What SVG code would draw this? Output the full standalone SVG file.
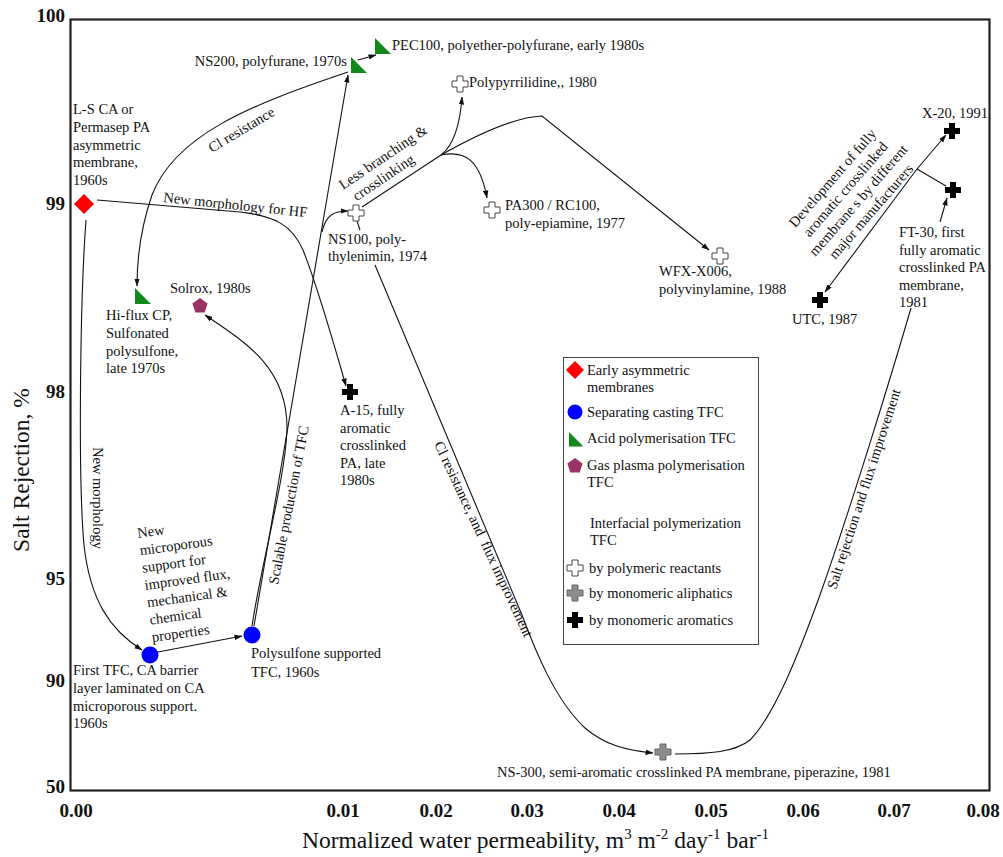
<svg xmlns="http://www.w3.org/2000/svg" width="1003" height="857" viewBox="0 0 1003 857">
<style>
.t{font-family:"Liberation Serif","Times New Roman",serif;font-size:14.5px;fill:#111}
.tk{font-family:"Liberation Serif","Times New Roman",serif;font-size:19px;font-weight:bold;fill:#111}
.ax{font-family:"Liberation Serif","Times New Roman",serif;font-size:23.5px;fill:#111}
.c{fill:none;stroke:#111;stroke-width:1.1}
.a{marker-end:url(#ah)}
.w{fill:#fff;stroke:#444;stroke-width:1}
.g{fill:#8c8c8c;stroke:#666;stroke-width:1}
.b{fill:#000}
.gr{fill:#14891b}
.rd{fill:#ff0000}
.bl{fill:#0000ff}
.pu{fill:#993366}
</style>
<defs>
<marker id="ah" markerWidth="8" markerHeight="6" refX="7.5" refY="3" orient="auto" markerUnits="userSpaceOnUse"><path d="M0,0.3 L8,3 L0,5.7 Z" fill="#111"/></marker>
<path id="cr" d="M-3,-8H3V-3H8V3H3V8H-3V3H-8V-3H-3Z"/>
<path id="tri" d="M0,0V16H16Z"/>
<path id="dia" d="M0,-10L10,0L0,10L-10,0Z"/>
<path id="pent" d="M0,-8L7.6,-2.5L4.7,6.5L-4.7,6.5L-7.6,-2.5Z"/>
</defs>
<rect width="1003" height="857" fill="#fff"/>

<g id="axes">
<rect x="70.5" y="19.5" width="919" height="771" fill="none" stroke="#222" stroke-width="2.2"/>
<g class="tk" text-anchor="end">
<text x="65" y="22">100</text>
<text x="65" y="210">99</text>
<text x="65" y="398">98</text>
<text x="65" y="585">95</text>
<text x="65" y="687">90</text>
<text x="65" y="793">50</text>
</g>
<g class="tk" text-anchor="middle">
<text x="76" y="817">0.00</text>
<text x="343" y="817">0.01</text>
<text x="436" y="817">0.02</text>
<text x="527" y="817">0.03</text>
<text x="619" y="817">0.04</text>
<text x="711" y="817">0.05</text>
<text x="803" y="817">0.06</text>
<text x="894" y="817">0.07</text>
<text x="983" y="817">0.08</text>
</g>
<text class="ax" x="302" y="848">Normalized water permeability, m<tspan font-size="15" dy="-9">3</tspan><tspan dy="9"> m</tspan><tspan font-size="15" dy="-9">-2</tspan><tspan dy="9"> day</tspan><tspan font-size="15" dy="-9">-1</tspan><tspan dy="9"> bar</tspan><tspan font-size="15" dy="-9">-1</tspan></text>
<text class="ax" text-anchor="middle" transform="translate(29,470) rotate(-90)">Salt Rejection, %</text>
</g>

<g id="connectors">
<path class="c a" d="M97,200 L240,212 C275,216 292,225 303,250 C315,280 330,330 346,386"/>
<path class="c a" d="M86,220 C80,300 78,480 84,545 C90,600 110,630 142,650"/>
<path class="c a" d="M158,652 L242,636"/>
<path class="c a" d="M252,626 C262,560 285,480 287,430 C288,370 250,345 205,315"/>
<path class="c a" d="M254,626 L348,75"/>
<path class="c a" d="M322,232 C326,214 335,211 348,211"/>
<path class="c" d="M357,221 L360,230"/>
<path class="c a" d="M375,265 L522,615 C535,650 555,700 585,728 C605,745 625,750 653,753"/>
<path class="c" d="M362,207 L441,155"/>
<path class="c a" d="M441,155 C454,145 460,125 462,97"/>
<path class="c a" d="M441,155 C465,150 480,160 487,198"/>
<path class="c a" d="M441,155 C480,133 515,117 542,116 L709,250"/>
<path class="c a" d="M348,72 C250,105 175,135 152,195 C140,230 137,260 137,286"/>
<path class="c a" d="M358,60 L376,55"/>
<path class="c" d="M675,754 C710,754 735,752 750,740 C775,715 800,650 820,595 C850,510 890,380 911,308"/>
<path class="c a" d="M940,222 L947,198"/>
<path class="c a" d="M917,169 L946,135"/>
<path class="c a" d="M917,169 L825,292"/>
<path class="c" d="M917,169 L946,186"/>
</g>

<g id="connector-labels" class="t">
<text transform="translate(163,202) rotate(6)">New morphology for HF</text>
<text transform="translate(212,153) rotate(-31)">Cl resistance</text>
<text transform="translate(343,190) rotate(-34)"><tspan x="0" y="0">Less branching &amp;</tspan><tspan x="5" y="17">crosslinking</tspan></text>
<text transform="translate(93,447) rotate(90)">New morphology</text>
<text transform="translate(278,585) rotate(-79)">Scalable production of TFC</text>
<text transform="translate(138,538) rotate(-8)"><tspan x="0" y="0">New</tspan><tspan x="0" y="17.5">microporous</tspan><tspan x="0" y="35">support for</tspan><tspan x="0" y="52.5">improved flux,</tspan><tspan x="0" y="70">mechanical &amp;</tspan><tspan x="0" y="87.5">chemical</tspan><tspan x="0" y="105">properties</tspan></text>
<text transform="translate(434,444) rotate(65)">Cl resistance, and&#160; flux improvement</text>
<text transform="translate(836,590) rotate(-72)">Salt rejection and flux improvement</text>
<text transform="translate(852,195) rotate(-49)" text-anchor="middle"><tspan x="0" y="-21">Development of fully</tspan><tspan x="0" y="-4">aromatic crosslinked</tspan><tspan x="0" y="13">membrane s by different</tspan><tspan x="0" y="30">major manufacturers</tspan></text>
</g>

<g id="node-ls-ca">
<use href="#dia" x="84" y="204" class="rd"/>
<text class="t"><tspan x="73" y="114">L-S CA or</tspan><tspan x="73" y="132">Permasep PA</tspan><tspan x="73" y="150">asymmetric</tspan><tspan x="73" y="167">membrane,</tspan><tspan x="73" y="185">1960s</tspan></text>
</g>
<g id="node-first-tfc">
<circle cx="150" cy="655" r="8.5" class="bl"/>
<text class="t"><tspan x="73" y="675">First TFC, CA barrier</tspan><tspan x="73" y="693">layer laminated on CA</tspan><tspan x="73" y="711">microporous support.</tspan><tspan x="73" y="728">1960s</tspan></text>
</g>
<g id="node-polysulfone">
<circle cx="252" cy="635" r="8.5" class="bl"/>
<text class="t"><tspan x="251" y="658">Polysulfone supported</tspan><tspan x="251" y="677">TFC, 1960s</tspan></text>
</g>
<g id="node-hiflux">
<use href="#tri" x="135" y="288" class="gr"/>
<text class="t"><tspan x="106" y="320">Hi-flux CP,</tspan><tspan x="106" y="338">Sulfonated</tspan><tspan x="106" y="356">polysulfone,</tspan><tspan x="106" y="373">late 1970s</tspan></text>
</g>
<g id="node-solrox">
<use href="#pent" x="200" y="306" class="pu"/>
<text class="t" x="170" y="293">Solrox, 1980s</text>
</g>
<g id="node-ns200">
<use href="#tri" x="351" y="57" class="gr"/>
<text class="t" x="347" y="66" text-anchor="end">NS200, polyfurane, 1970s</text>
</g>
<g id="node-pec100">
<use href="#tri" x="375" y="38" class="gr"/>
<text class="t" x="392" y="50">PEC100, polyether-polyfurane, early 1980s</text>
</g>
<g id="node-polypyrrilidine">
<use href="#cr" x="460" y="84" class="w"/>
<text class="t" x="469" y="87">Polypyrrilidine,, 1980</text>
</g>
<g id="node-ns100">
<use href="#cr" x="356" y="213" class="w"/>
<text class="t"><tspan x="328" y="244">NS100, poly-</tspan><tspan x="328" y="261">thylenimin, 1974</tspan></text>
</g>
<g id="node-pa300">
<use href="#cr" x="492" y="210" class="w"/>
<text class="t"><tspan x="505" y="210">PA300 / RC100,</tspan><tspan x="505" y="228">poly-epiamine, 1977</tspan></text>
</g>
<g id="node-wfx">
<use href="#cr" x="720" y="256" class="w"/>
<text class="t"><tspan x="659" y="276">WFX-X006,</tspan><tspan x="659" y="294">polyvinylamine, 1988</tspan></text>
</g>
<g id="node-a15">
<use href="#cr" x="350" y="392" class="b"/>
<text class="t"><tspan x="340" y="415">A-15, fully</tspan><tspan x="340" y="433">aromatic</tspan><tspan x="340" y="450">crosslinked</tspan><tspan x="340" y="468">PA, late</tspan><tspan x="340" y="485">1980s</tspan></text>
</g>
<g id="node-ns300">
<use href="#cr" x="663" y="752" class="g"/>
<text class="t" x="497" y="777">NS-300, semi-aromatic crosslinked PA membrane, piperazine, 1981</text>
</g>
<g id="node-x20">
<use href="#cr" x="952" y="131" class="b"/>
<text class="t" x="988" y="118" text-anchor="end">X-20, 1991</text>
</g>
<g id="node-ft30">
<use href="#cr" x="953" y="190" class="b"/>
<text class="t"><tspan x="899" y="237">FT-30, first</tspan><tspan x="899" y="255">fully aromatic</tspan><tspan x="899" y="272">crosslinked PA</tspan><tspan x="899" y="290">membrane,</tspan><tspan x="899" y="307">1981</tspan></text>
</g>
<g id="node-utc">
<use href="#cr" x="820" y="300" class="b"/>
<text class="t" x="792" y="324">UTC, 1987</text>
</g>

<g id="legend">
<rect x="563.5" y="357.5" width="195" height="287" fill="#fff" stroke="#444" stroke-width="1"/>
<use href="#dia" x="575" y="370" class="rd" transform="translate(575,370) scale(0.9) translate(-575,-370)"/>
<circle cx="575" cy="412" r="7.5" class="bl"/>
<use href="#tri" x="569" y="432" class="gr" transform="translate(569,432) scale(0.9) translate(-569,-432)"/>
<use href="#pent" x="575" y="466" class="pu"/>
<use href="#cr" x="575" y="568" class="w"/>
<use href="#cr" x="575" y="593" class="g"/>
<use href="#cr" x="575" y="620" class="b"/>
<g class="t">
<text><tspan x="587" y="375">Early asymmetric</tspan><tspan x="587" y="392">membranes</tspan></text>
<text x="587" y="417">Separating casting TFC</text>
<text x="587" y="443">Acid polymerisation TFC</text>
<text><tspan x="587" y="470">Gas plasma polymerisation</tspan><tspan x="587" y="487">TFC</tspan></text>
<text><tspan x="590" y="528">Interfacial polymerization</tspan><tspan x="590" y="545">TFC</tspan></text>
<text x="589" y="573">by polymeric reactants</text>
<text x="589" y="598">by monomeric aliphatics</text>
<text x="589" y="625">by monomeric aromatics</text>
</g>
</g>
</svg>
